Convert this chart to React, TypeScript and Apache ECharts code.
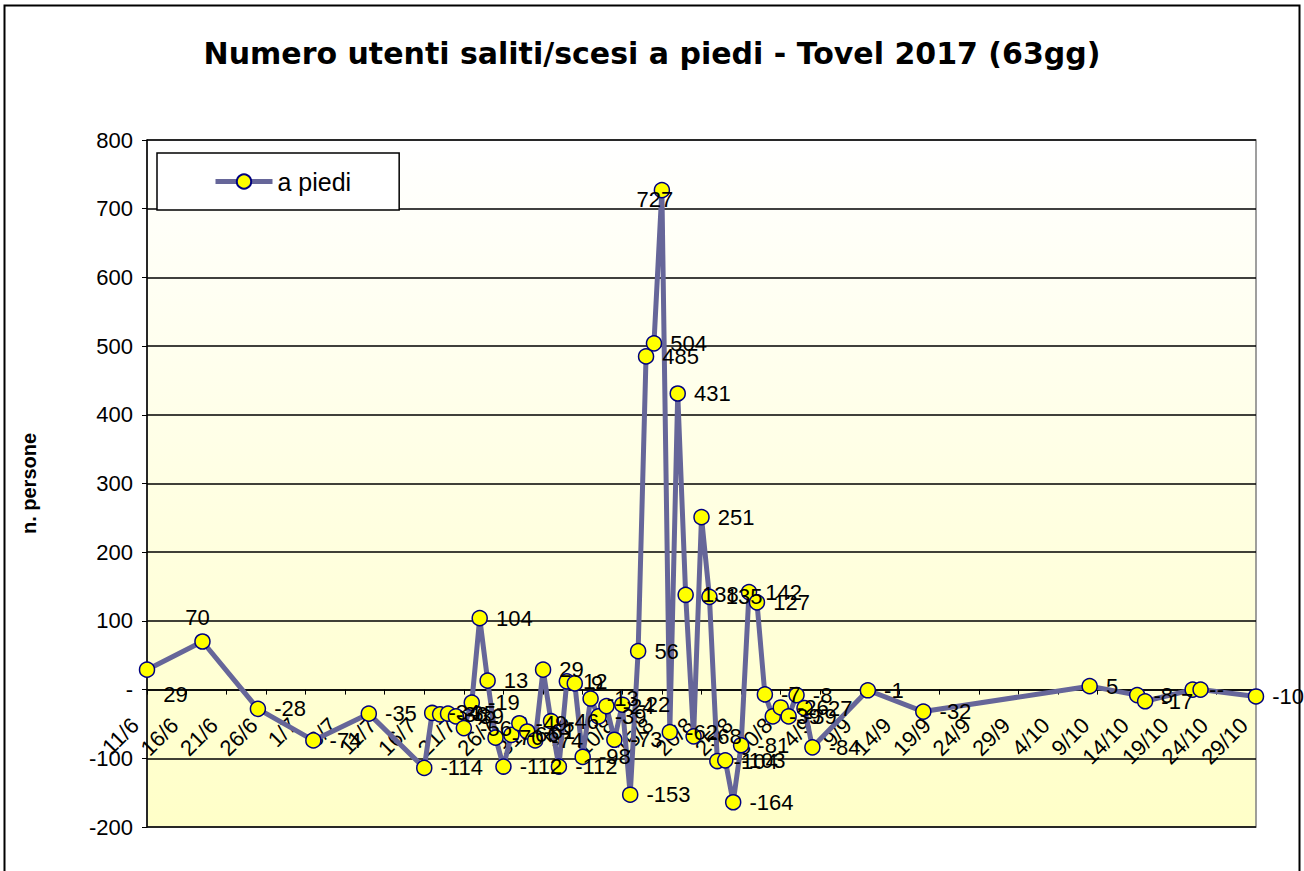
import React, { useEffect, useRef } from "react";
import * as echarts from "echarts";

const TITLE = "Numero utenti saliti/scesi a piedi - Tovel 2017 (63gg)";
const SERIES_NAME = "a piedi";
const Y_NAME = "n. persone";

const dates = [
  "11/6", "18/6", "25/6", "2/7", "9/7", "16/7", "17/7", "18/7", "19/7", "20/7",
  "21/7", "22/7", "23/7", "24/7", "25/7", "26/7", "27/7", "28/7", "29/7", "30/7",
  "31/7", "1/8", "2/8", "3/8", "4/8", "5/8", "6/8", "7/8", "8/8", "9/8",
  "10/8", "11/8", "12/8", "13/8", "14/8", "15/8", "16/8", "17/8", "18/8", "19/8",
  "20/8", "21/8", "22/8", "23/8", "24/8", "25/8", "26/8", "27/8", "28/8", "29/8",
  "30/8", "31/8", "1/9", "2/9", "3/9", "10/9", "17/9", "8/10", "14/10", "15/10",
  "21/10", "22/10", "29/10",
];

const values = [
  29, 70, -28, -74, -35, -114, -34, -36, -35, -39,
  -56, -19, 104, 13, -70, -112, -66, -49, -61, -74,
  29, -46, -112, 12, 9, -98, -13, -39, -24, -73,
  -22, -153, 56, 485, 504, 727, -62, 431, 138, -68,
  251, 135, -104, -103, -164, -81, 142, 127, -7, -39,
  -26, -39, -8, -27, -84, -1, -32, 5, -8, -17,
  0, 0, -10,
];

const START = Date.UTC(2017, 5, 11);
const DAY = 86400000;
const X_MAX_DAYS = 140;
const Y_MIN = -200;
const Y_MAX = 800;

function dayIndex(s: string): number {
  const [d, m] = s.split("/").map(Number);
  return Math.round((Date.UTC(2017, m - 1, d) - START) / DAY);
}

function dayLabel(v: number): string {
  const dt = new Date(START + v * DAY);
  return dt.getUTCDate() + "/" + (dt.getUTCMonth() + 1);
}

// label placement tweaks (index -> position / shift)
const labelPositions: Record<number, any> = {
  1: { position: "top", distance: 5 },
  35: { position: "bottom", distance: 0 },
};
const labelShifts: Record<number, [number, number]> = {
  0: [0, 25],
  1: [-5, 0],
  35: [-7, -10],
};

export default function App() {
  const ref = useRef<HTMLDivElement>(null);
  useEffect(() => {
    if (!ref.current) return;
    const chart = echarts.init(ref.current, undefined, { renderer: "svg" });
    const font = "'Liberation Sans', Arial, sans-serif";
    const gridTop = 140;
    const gridBottom = 44;
    const gridHeight = 871 - gridTop - gridBottom;
    const zeroOffset = (gridHeight * (0 - Y_MIN)) / (Y_MAX - Y_MIN);
    const data = dates.map((d, i) => {
      const item: any = { value: [dayIndex(d), values[i]] };
      if (labelPositions[i]) item.label = labelPositions[i];
      return item;
    });
    chart.setOption({
      animation: false,
      backgroundColor: "#ffffff",
      title: {
        text: TITLE,
        left: "center",
        top: 33,
        textStyle: {
          fontFamily: "'DejaVu Sans', Verdana, sans-serif",
          fontWeight: "bold",
          fontSize: 30,
          color: "#000",
        },
      },
      graphic: [
        {
          type: "rect",
          shape: { x: 4.5, y: 5.5, width: 1295, height: 900 },
          style: { fill: "none", stroke: "#000", lineWidth: 2 },
          silent: true,
          z: 100,
        },
      ],
      legend: {
        data: [SERIES_NAME],
        left: 157,
        top: 153,
        backgroundColor: "#ffffff",
        borderColor: "#000",
        borderWidth: 1.5,
        padding: [16, 48, 16, 56],
        itemWidth: 57,
        itemHeight: 18,
        itemGap: 10,
        lineStyle: { width: 5, color: "#666699" },
        textStyle: { fontFamily: font, fontSize: 25, color: "#000" },
      },
      grid: {
        left: 147,
        right: 48,
        top: gridTop,
        bottom: gridBottom,
        containLabel: false,
        outerBoundsMode: "none",
        show: true,
        borderColor: "#808080",
        borderWidth: 1.5,
        backgroundColor: {
          type: "linear",
          x: 0,
          y: 0,
          x2: 0,
          y2: 1,
          colorStops: [
            { offset: 0, color: "#ffffff" },
            { offset: 1, color: "#ffffc8" },
          ],
        },
      },
      xAxis: {
        type: "value",
        min: 0,
        max: X_MAX_DAYS,
        interval: 5,
        offset: -zeroOffset,
        axisLine: { onZero: false, lineStyle: { color: "#000", width: 1.5 } },
        axisTick: { show: true, length: 5, lineStyle: { color: "#000" } },
        splitLine: { show: false },
        axisLabel: {
          rotate: 45,
          margin: 20,
          padding: [0, 17, 0, 0],
          fontFamily: font,
          fontSize: 22,
          color: "#000",
          formatter: (v: number) => dayLabel(v),
        },
      },
      yAxis: {
        type: "value",
        min: Y_MIN,
        max: Y_MAX,
        interval: 100,
        name: Y_NAME,
        nameLocation: "middle",
        nameRotate: 90,
        nameGap: 108,
        nameTextStyle: { fontFamily: font, fontWeight: "bold", fontSize: 20, color: "#000" },
        axisLine: { show: true, onZero: false, lineStyle: { color: "#000", width: 1.5 } },
        axisTick: { show: true, length: 5, lineStyle: { color: "#000" } },
        splitLine: { show: true, lineStyle: { color: "#000", width: 1.5 } },
        axisLabel: {
          margin: 14,
          fontFamily: font,
          fontSize: 22,
          color: "#000",
          formatter: (v: number) => (v === 0 ? "-" : String(v)),
        },
      },
      series: [
        {
          name: SERIES_NAME,
          type: "line",
          data,
          symbol: "circle",
          symbolSize: 15,
          lineStyle: { color: "#666699", width: 5 },
          itemStyle: { color: "#ffff00", borderColor: "#000080", borderWidth: 1.5 },
          label: {
            show: true,
            position: "right",
            distance: 8,
            fontFamily: font,
            fontSize: 22,
            color: "#000",
            formatter: (p: any) => (p.value[1] === 0 ? "-" : String(p.value[1])),
          },
          labelLayout: (params: any) => {
            const s = labelShifts[params.dataIndex];
            return s ? { dx: s[0], dy: s[1], hideOverlap: false } : { hideOverlap: false };
          },
        },
      ],
    });
    return () => chart.dispose();
  }, []);
  return (
    <div
      ref={ref}
      style={{ position: "fixed", left: 0, top: 0, width: 1304, height: 871 }}
    />
  );
}
